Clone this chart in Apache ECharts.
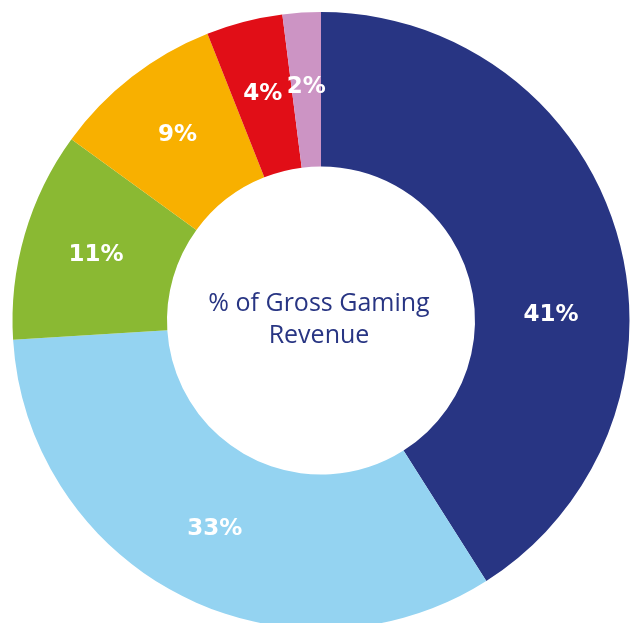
<!DOCTYPE html>
<html>
<head>
<meta charset="utf-8">
<script src="https://cdn.jsdelivr.net/npm/echarts@6/dist/echarts.min.js"></script>
<style>
html,body{margin:0;padding:0;background:#fff;}
#chart{width:638px;height:623px;}
</style>
</head>
<body>
<div id="chart"></div>
<script>
var categories = ['Segment A', 'Segment B', 'Segment C', 'Segment D', 'Segment E', 'Segment F'];
var values = [41, 33, 11, 9, 4, 2];
var colors = ['#283583', '#94d3f1', '#8ab933', '#f8b000', '#e10e17', '#cc94c4'];
var centerText = '% of Gross Gaming\nRevenue';

var chart = echarts.init(document.getElementById('chart'));
chart.setOption({
  animation: false,
  graphic: [{
    type: 'text',
    left: 'center',
    top: 288,
    style: {
      text: centerText,
      fill: '#283583',
      font: '25px "Open Sans"',
      textAlign: 'center',
      lineHeight: 32
    }
  }],
  series: [{
    type: 'pie',
    center: [321, 320.5],
    radius: [154, 308.5],
    startAngle: 90,
    clockwise: true,
    silent: true,
    itemStyle: { borderWidth: 0 },
    label: {
      show: true,
      position: 'inside',
      formatter: '{c}%',
      color: '#ffffff',
      fontFamily: 'DejaVu Sans',
      fontWeight: 'bold',
      fontSize: 23
    },
    labelLine: { show: false },
    data: categories.map(function (c, i) {
      var item = { name: c, value: values[i], itemStyle: { color: colors[i] } };
      if (i === 0) { item.label = { offset: [5, 60] }; }
      return item;
    })
  }]
});
</script>
</body>
</html>
